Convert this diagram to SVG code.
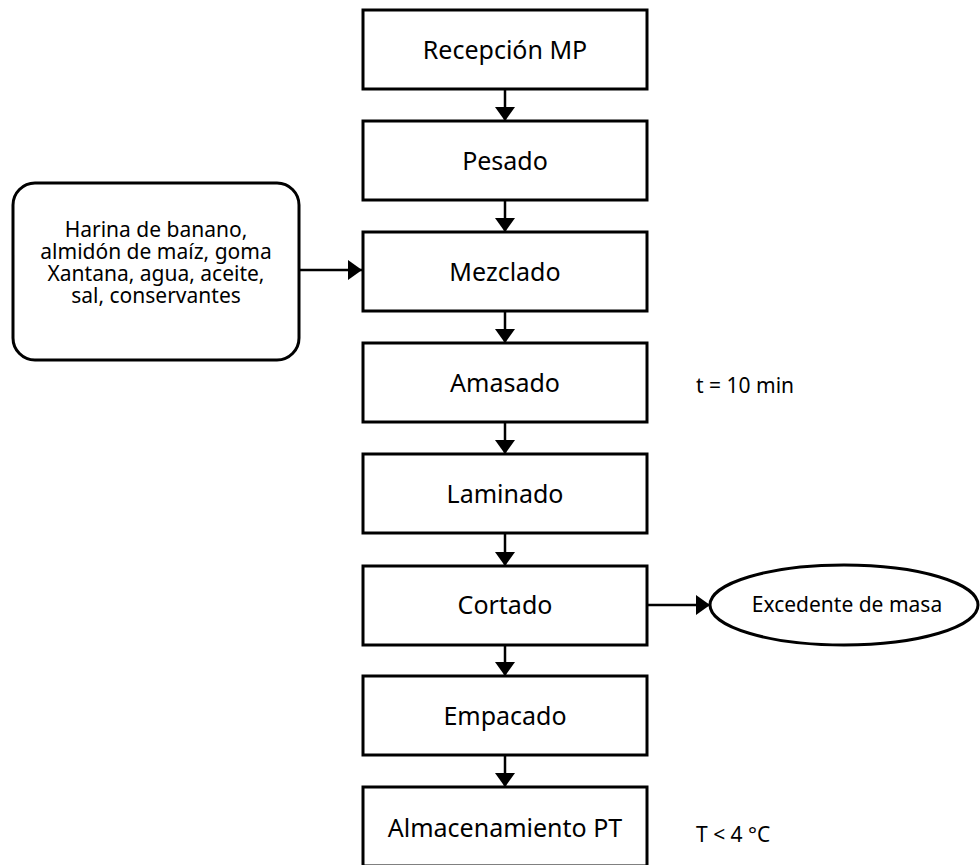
<svg xmlns="http://www.w3.org/2000/svg" width="980" height="865" viewBox="0 0 980 865">
<defs>
<marker id="ah" viewBox="0 0 14 20" refX="14" refY="10" markerWidth="14" markerHeight="20" markerUnits="userSpaceOnUse" orient="auto">
<path d="M0,0 L14,10 L0,20 Z" fill="#000"/>
</marker>
<style>
.box{fill:#fff;stroke:#000;stroke-width:3}
.t{font-family:"Noto Sans","Open Sans",sans-serif;font-size:25px;fill:#000;text-anchor:middle}
.s{font-family:"Noto Sans","Open Sans",sans-serif;font-size:21px;fill:#000}
.c{stroke:#000;stroke-width:2.5;fill:none;marker-end:url(#ah)}
</style>
</defs>
<rect width="980" height="865" fill="#fff"/>
<g id="connectors">
<line class="c" x1="505" y1="89" x2="505" y2="121"/>
<line class="c" x1="505" y1="200" x2="505" y2="232"/>
<line class="c" x1="505" y1="311" x2="505" y2="343"/>
<line class="c" x1="505" y1="422" x2="505" y2="454"/>
<line class="c" x1="505" y1="533" x2="505" y2="566"/>
<line class="c" x1="505" y1="645" x2="505" y2="676"/>
<line class="c" x1="505" y1="755" x2="505" y2="787"/>
<line class="c" x1="299" y1="270" x2="362" y2="270"/>
<line class="c" x1="647" y1="605" x2="710" y2="605"/>
</g>
<g id="n1"><rect class="box" x="363" y="10" width="284" height="79"/><text class="t" x="505" y="59">Recepción MP</text></g>
<g id="n2"><rect class="box" x="363" y="121" width="284" height="79"/><text class="t" x="505" y="170">Pesado</text></g>
<g id="n3"><rect class="box" x="363" y="232" width="284" height="79"/><text class="t" x="505" y="281">Mezclado</text></g>
<g id="n4"><rect class="box" x="363" y="343" width="284" height="79"/><text class="t" x="505" y="392">Amasado</text></g>
<g id="n5"><rect class="box" x="363" y="454" width="284" height="79"/><text class="t" x="505" y="503">Laminado</text></g>
<g id="n6"><rect class="box" x="363" y="566" width="284" height="79"/><text class="t" x="505" y="614">Cortado</text></g>
<g id="n7"><rect class="box" x="363" y="676" width="284" height="79"/><text class="t" x="505" y="725">Empacado</text></g>
<g id="n8"><rect class="box" x="363" y="787" width="284" height="79"/><text class="t" x="505" y="837">Almacenamiento PT</text></g>
<g id="ingredientes"><rect class="box" x="13" y="183" width="286" height="177" rx="22" ry="22"/>
<text class="s" text-anchor="middle" x="156" y="237">Harina de banano,</text>
<text class="s" text-anchor="middle" x="156" y="259">almidón de maíz, goma</text>
<text class="s" text-anchor="middle" x="156" y="281">Xantana, agua, aceite,</text>
<text class="s" text-anchor="middle" x="156" y="303">sal, conservantes</text>
</g>
<g id="excedente"><ellipse class="box" cx="844" cy="605" rx="134" ry="40" stroke-width="2.5"/><text class="s" text-anchor="middle" x="847" y="612">Excedente de masa</text></g>
<g id="nota-t"><text class="s" x="696" y="393">t = 10 min</text></g>
<g id="nota-T"><text class="s" x="696" y="842">T &lt; 4 °C</text></g>
</svg>
